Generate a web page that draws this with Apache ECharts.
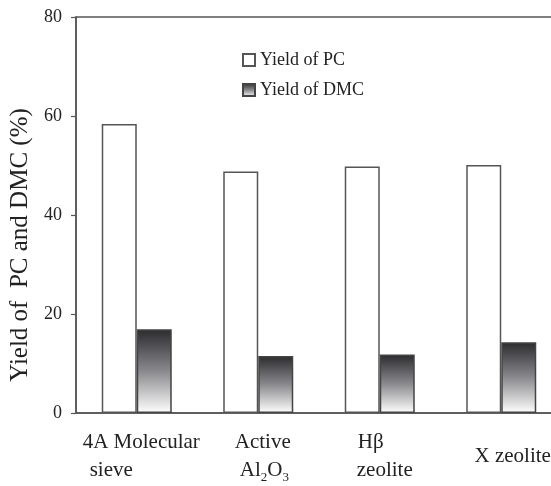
<!DOCTYPE html>
<html>
<head>
<meta charset="utf-8">
<script src="https://cdn.jsdelivr.net/npm/echarts@6/dist/echarts.min.js"></script>
<style>
html,body{margin:0;padding:0;background:#fff;}
#chart{width:551px;height:486px;}
</style>
</head>
<body>
<div id="chart"></div>
<script>
const categories = ['4A Molecular\nsieve', 'Active\nAl2O3', 'Hβ\nzeolite', 'X zeolite'];
const pcYield = [58.4, 48.8, 49.8, 50.1];
const dmcYield = [16.9, 11.5, 11.8, 14.3];
const yTicks = [0, 20, 40, 60, 80];
const seriesNames = ['Yield of PC', 'Yield of DMC'];
const yTitle = 'Yield of  PC and DMC (%)';

const FONT = 'Liberation Serif';
const labelIndent = [[9, 16], [9, 14], [11, 10], [23]];
const rich = {
  sub: { fontFamily: FONT, fontSize: 13, color: '#222', verticalAlign: 'bottom', lineHeight: 23, align: 'left' }
};
labelIndent.forEach((arr, i) => arr.forEach((p, j) => {
  rich['i' + i + '_' + j] = { fontFamily: FONT, fontSize: 21, color: '#222', padding: [0, 0, 0, p], lineHeight: 28, align: 'left' };
}));
rich.n = { fontFamily: FONT, fontSize: 21, color: '#222', lineHeight: 28, align: 'left' };

function fmt(value, index) {
  return value.split('\n').map((ln, j) => {
    const parts = ln.split(/(?<=[A-Za-z])(\d)/);
    let out = '';
    parts.forEach((pt, k) => {
      if (pt === '') return;
      let style;
      if (k === 0) style = 'i' + index + '_' + j;
      else style = (k % 2 === 1) ? 'sub' : 'n';
      out += '{' + style + '|' + pt + '}';
    });
    return out;
  }).join('\n');
}

const chart = echarts.init(document.getElementById('chart'));
chart.setOption({
  backgroundColor: '#fff',
  animation: false,
  grid: { left: 76, right: -11, top: 17, bottom: 73, outerBoundsMode: 'none', containLabel: false, show: true, borderColor: '#555', borderWidth: 1.5, backgroundColor: 'transparent' },
  legend: {
    orient: 'vertical', left: 237, top: 46, itemWidth: 12, itemHeight: 12, itemGap: 12,
    icon: 'rect',
    textStyle: { fontFamily: FONT, fontSize: 18, color: '#222' },
    data: seriesNames
  },
  xAxis: {
    type: 'category', data: categories,
    axisLine: { lineStyle: { color: '#555', width: 1.5 } },
    axisTick: { inside: true, length: 5, lineStyle: { color: '#555', width: 1.2 } },
    axisLabel: { margin: 43, verticalAlign: 'middle', align: 'center', formatter: fmt, rich: rich, interval: 0 }
  },
  yAxis: {
    type: 'value', min: yTicks[0], max: yTicks[yTicks.length - 1], interval: 20,
    name: yTitle, nameLocation: 'middle', nameGap: 41, nameRotate: 90,
    nameTextStyle: { fontFamily: FONT, fontSize: 25, color: '#222', padding: [0, 60, 0, 0] },
    axisLine: { show: true, lineStyle: { color: '#555', width: 1.5 } },
    axisTick: { show: true, inside: false, length: 5, lineStyle: { color: '#555', width: 1.2 } },
    splitLine: { show: false },
    axisLabel: { fontFamily: FONT, fontSize: 18, color: '#222', margin: 14 }
  },
  series: [
    {
      name: seriesNames[0], type: 'bar', data: pcYield, barWidth: 35, barGap: '0%',
      itemStyle: { color: '#fff', borderColor: '#555', borderWidth: 1.5 }
    },
    {
      name: seriesNames[1], type: 'bar', data: dmcYield, barWidth: 35, barGap: '0%',
      itemStyle: {
        color: new echarts.graphic.LinearGradient(0, 0, 0, 1, [
          { offset: 0, color: '#2b2b2e' },
          { offset: 0.5, color: '#8a8a8e' },
          { offset: 1, color: '#ffffff' }
        ]),
        borderColor: '#444', borderWidth: 1.5
      }
    }
  ]
});
</script>
</body>
</html>
